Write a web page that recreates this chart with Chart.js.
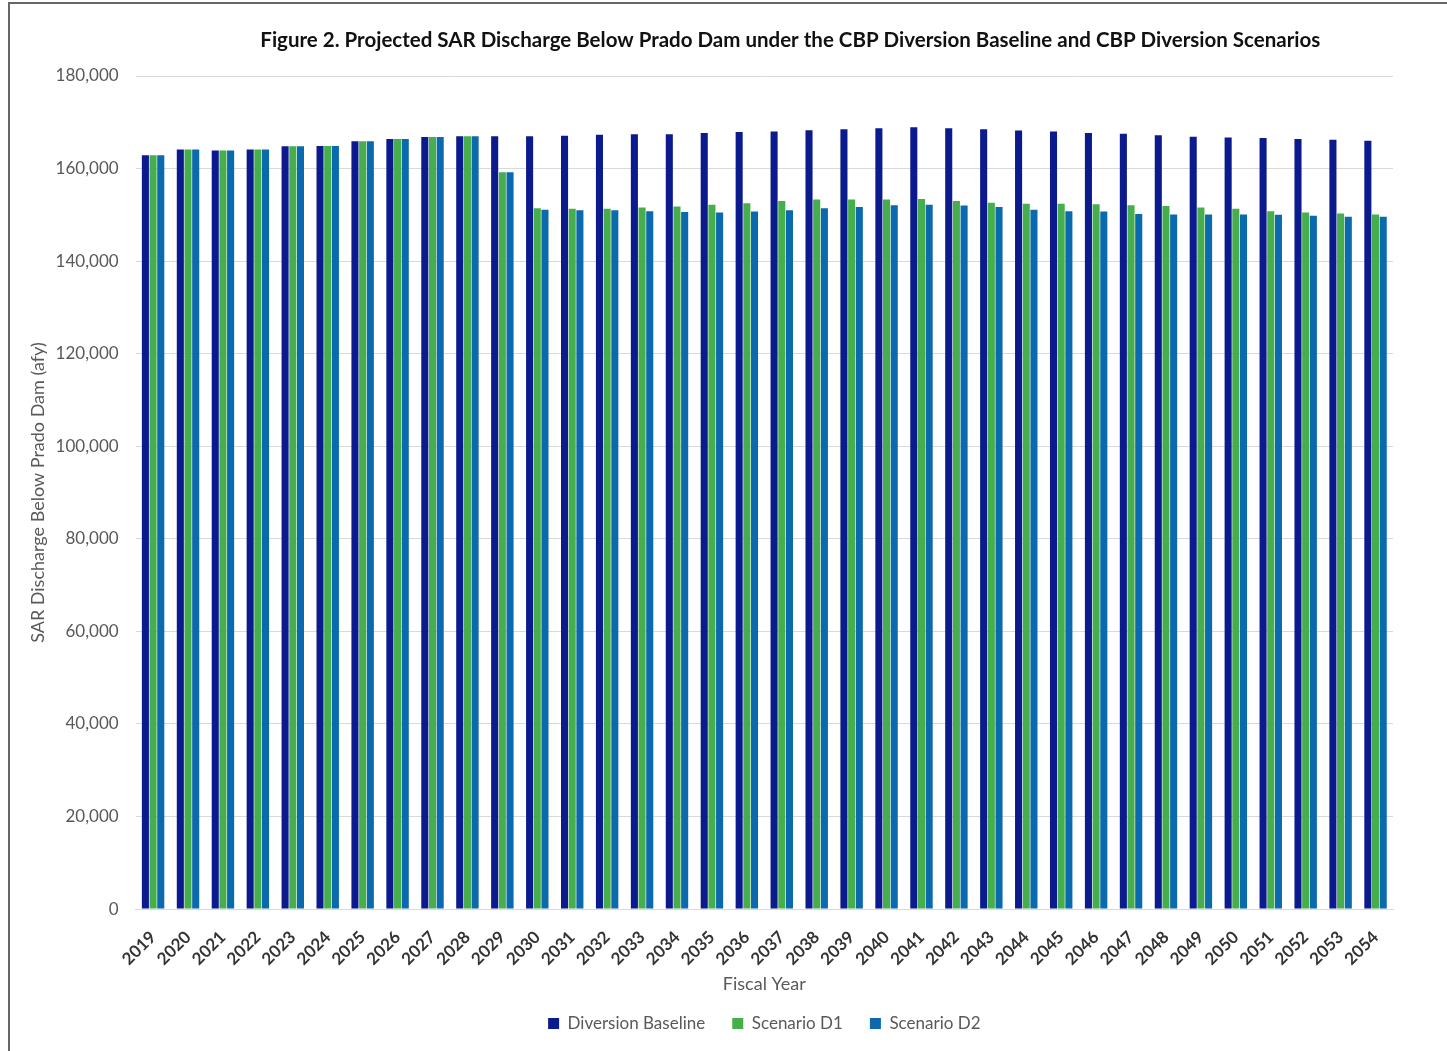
<!DOCTYPE html>
<html>
<head>
<meta charset="utf-8">
<title>Projected SAR Discharge Below Prado Dam</title>
<script src="https://cdn.jsdelivr.net/npm/chart.js@4.4.1/dist/chart.umd.min.js"></script>
<style>
    body { margin: 0; background: #fff; }
    #wrap { position: relative; width: 1447px; height: 1051px; overflow: hidden; }
    #frame { position: absolute; left: 8px; top: 2px; width: 1500px; height: 1100px; border: 2px solid #666; pointer-events: none; }
    #dischargeChart { position: absolute; left: 0; top: 0; }
</style>
</head>
<body>
<div id="wrap">
    <canvas id="dischargeChart" width="1447" height="1051"></canvas>
    <div id="frame"></div>
</div>
<script>
const years = ['2019', '2020', '2021', '2022', '2023', '2024', '2025', '2026', '2027', '2028',
    '2029', '2030', '2031', '2032', '2033', '2034', '2035', '2036', '2037', '2038',
    '2039', '2040', '2041', '2042', '2043', '2044', '2045', '2046', '2047', '2048',
    '2049', '2050', '2051', '2052', '2053', '2054'];

// afy
const diversionBaseline = [162900, 164100, 163900, 164100, 164800, 164900, 165900, 166400, 166800, 167000,
    167000, 167000, 167100, 167300, 167400, 167400, 167700, 167900, 168000, 168300,
    168500, 168700, 168900, 168700, 168500, 168200, 168000, 167700, 167500, 167200,
    166900, 166700, 166600, 166400, 166200, 166000];

const scenarioD1 = [162900, 164100, 163900, 164100, 164800, 164900, 165900, 166400, 166800, 167000,
    159200, 151400, 151300, 151300, 151600, 151800, 152200, 152500, 153000, 153300,
    153300, 153300, 153400, 153000, 152600, 152400, 152400, 152300, 152100, 151900,
    151600, 151300, 150800, 150500, 150300, 150100];

const scenarioD2 = [162900, 164100, 163900, 164100, 164800, 164900, 165900, 166400, 166800, 167000,
    159200, 151100, 151000, 151000, 150800, 150600, 150500, 150700, 151000, 151400,
    151700, 152100, 152200, 152000, 151700, 151100, 150800, 150700, 150200, 150100,
    150100, 150100, 150000, 149800, 149600, 149600];

const yTicks = [0, 20000, 40000, 60000, 80000, 100000, 120000, 140000, 160000, 180000];

const figureTitle = 'Figure 2. Projected SAR Discharge Below Prado Dam under the CBP Diversion Baseline and CBP Diversion Scenarios';

// title sits a little right of centre, above the plot
const titlePlugin = {
    id: 'figureTitle',
    afterDraw(chart) {
        const ctx = chart.ctx;
        ctx.save();
        ctx.font = 'bold 20.5px Lato';
        ctx.fillStyle = '#111';
        ctx.textAlign = 'center';
        ctx.textBaseline = 'middle';
        ctx.fillText(figureTitle, chart.chartArea.left + (chart.chartArea.right - chart.chartArea.left) / 2 + 26, 40);
        ctx.restore();
    }
};

const ctx = document.getElementById('dischargeChart').getContext('2d');

new Chart(ctx, {
    type: 'bar',
    data: {
        labels: years,
        datasets: [
            { label: 'Diversion Baseline', data: diversionBaseline, backgroundColor: '#0b1a8c' },
            { label: 'Scenario D1', data: scenarioD1, backgroundColor: '#46ae4d' },
            { label: 'Scenario D2', data: scenarioD2, backgroundColor: '#0b69ae' }
        ]
    },
    options: {
        responsive: false,
        animation: false,
        devicePixelRatio: 1,
        layout: { padding: { left: 27, right: 54, top: 76, bottom: 9 } },
        datasets: {
            bar: { categoryPercentage: 0.66, barPercentage: 0.92 }
        },
        scales: {
            x: {
                grid: { display: false },
                border: { display: true, color: '#d9d9d9', width: 1 },
                ticks: {
                    maxRotation: 45,
                    minRotation: 45,
                    autoSkip: false,
                    padding: 10,
                    color: '#333',
                    font: { family: 'Lato', size: 17, weight: 'bold' }
                },
                title: {
                    display: true,
                    text: 'Fiscal Year',
                    color: '#595959',
                    font: { family: 'Lato', size: 18 },
                    padding: { top: -6, bottom: 6 }
                }
            },
            y: {
                min: 0,
                max: 180000,
                afterBuildTicks: axis => { axis.ticks = yTicks.map(v => ({ value: v })); },
                grid: { color: '#d9d9d9', drawTicks: false },
                border: { display: false },
                ticks: {
                    padding: 17,
                    color: '#595959',
                    font: { family: 'Lato', size: 17 },
                    callback: v => v.toLocaleString('en-US')
                },
                title: {
                    display: true,
                    text: 'SAR Discharge Below Prado Dam (afy)',
                    color: '#595959',
                    font: { family: 'Lato', size: 18 },
                    padding: { top: 0, bottom: -10 }
                }
            }
        },
        plugins: {
            legend: {
                position: 'bottom',
                fullSize: false,
                labels: {
                    boxWidth: 11,
                    boxHeight: 11,
                    padding: 14,
                    color: '#595959',
                    font: { family: 'Lato', size: 17 },
                    // widen the gap between entries without growing the legend box
                    generateLabels: chart => Chart.defaults.plugins.legend.labels.generateLabels(chart)
                        .map((item, i, all) => i < all.length - 1 ? Object.assign(item, { text: item.text + '   ' }) : item)
                }
            },
            tooltip: { enabled: false }
        }
    },
    plugins: [titlePlugin]
});
</script>
</body>
</html>
